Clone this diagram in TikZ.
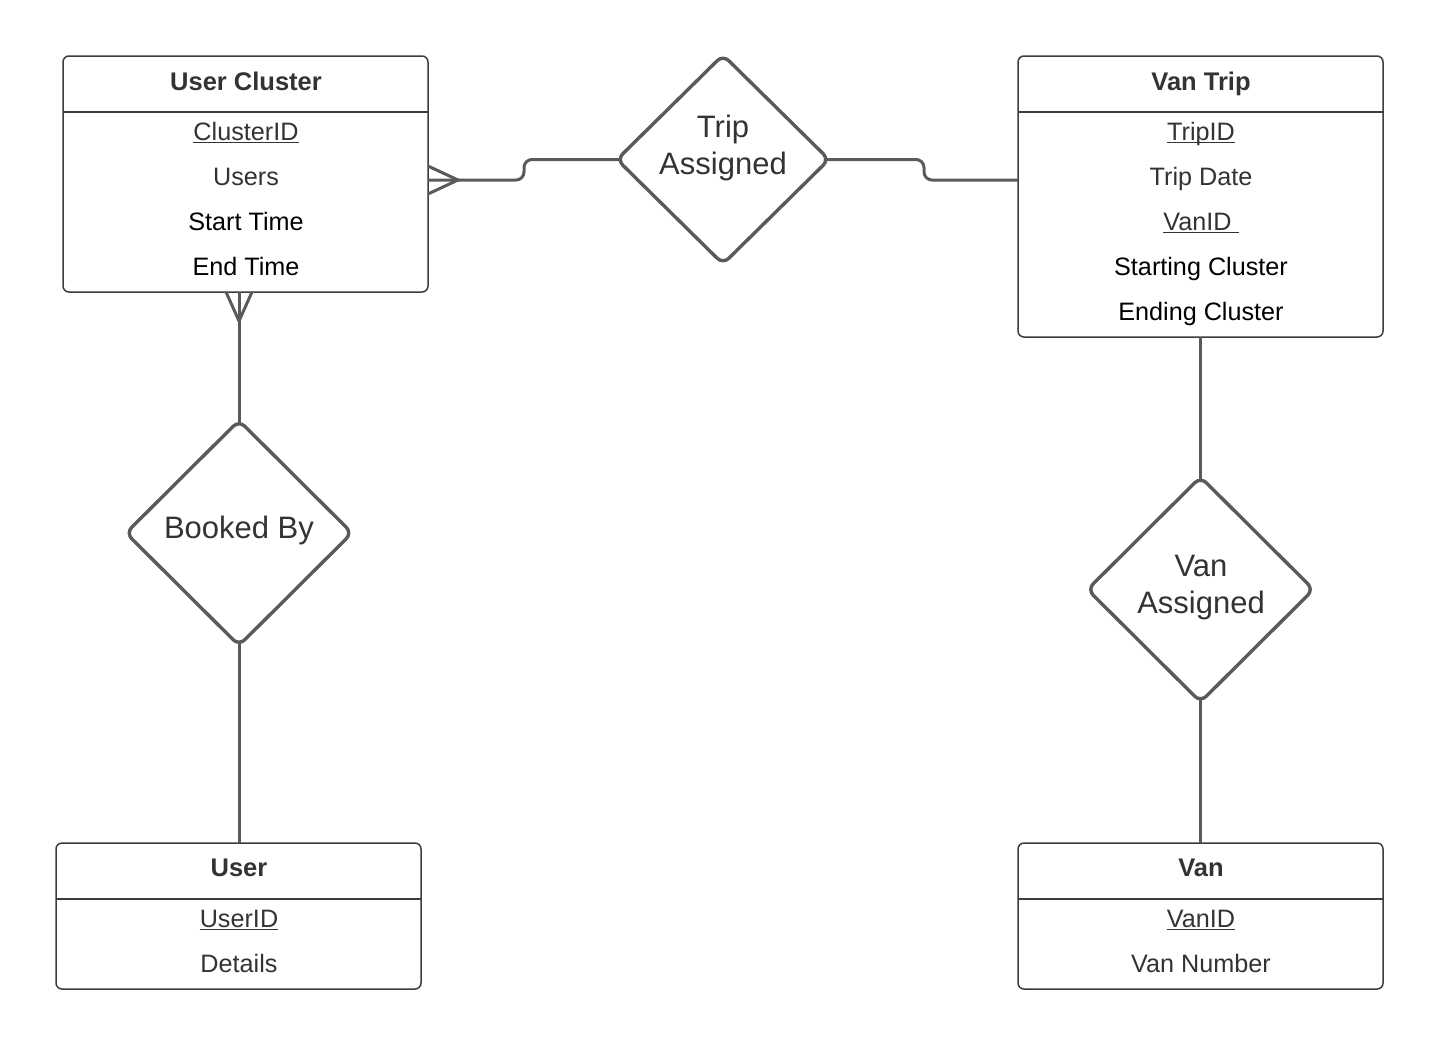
\documentclass[tikz,border=0pt]{standalone}
\usepackage{fontspec}
\setmainfont{Liberation Sans}
\usetikzlibrary{shapes.geometric,calc}
\definecolor{lineC}{HTML}{5A5A5A}
\definecolor{boxC}{HTML}{3C3C3C}
\definecolor{txtC}{HTML}{333333}
\newsavebox\ulbox
\newcommand\ulx[1]{\sbox\ulbox{#1}\rlap{\rule[-1.6pt]{\wd\ulbox}{0.7pt}}\usebox\ulbox}
\tikzset{
  entity/.style={draw=boxC, line width=0.75pt, rounded corners=3pt, rectangle, inner sep=0pt, outer sep=0pt, fill=white},
  title/.style={anchor=base, inner sep=0pt, font=\fontsize{12.75}{14}\selectfont\bfseries, text=txtC},
  attr/.style={anchor=base, inner sep=0pt, font=\fontsize{12.6}{14}\selectfont, text=txtC},
  attrk/.style={attr, text=black},
  rel/.style={draw=lineC, line width=1.7pt, diamond, rounded corners=4pt, inner sep=0pt, outer sep=0pt},
  dtext/.style={align=center, inner sep=0pt, font=\fontsize{15.5}{18.5}\selectfont, text=txtC},
  conn/.style={draw=lineC, line width=1.5pt},
}
\begin{document}
\begin{tikzpicture}[x=0.5pt,y=-0.5pt]
\useasboundingbox (0,0) rectangle (1440,1045);
% User Cluster
\node[entity, minimum width=182.5pt, minimum height=118pt] (uc) at (245.5,174) {};
\draw[boxC, line width=0.75pt] (uc.west |- 0,112) coordinate (ucH1) -- (uc.east |- 0,112) coordinate (ucH2);
\node[title] (ucT) at (246,90) {User Cluster};
\node[attr] (uc1) at (246,140) {\ulx{ClusterID}};
\node[attr] (uc2) at (246,185) {Users};
\node[attrk] (uc3) at (246,230) {Start Time};
\node[attrk] (uc4) at (246,275) {End Time};
% Van Trip
\node[entity, minimum width=182.5pt, minimum height=140.5pt] (vt) at (1200.5,196.5) {};
\draw[boxC, line width=0.75pt] (vt.west |- 0,112) coordinate (vtH1) -- (vt.east |- 0,112) coordinate (vtH2);
\node[title] (vtT) at (1201,90) {Van Trip};
\node[attr] (vt1) at (1201,140) {\ulx{TripID}};
\node[attr] (vt2) at (1201,185) {Trip Date};
\node[attr] (vt3) at (1201,230) {\ulx{VanID\ }};
\node[attrk] (vt4) at (1201,275) {Starting Cluster};
\node[attrk] (vt5) at (1201,320) {Ending Cluster};
% User
\node[entity, minimum width=182.5pt, minimum height=73pt] (us) at (238.5,916) {};
\draw[boxC, line width=0.75pt] (us.west |- 0,899) coordinate (usH1) -- (us.east |- 0,899) coordinate (usH2);
\node[title] (usT) at (239,876) {User};
\node[attr] (us1) at (239,927) {\ulx{UserID}};
\node[attr] (us2) at (239,972) {Details};
% Van
\node[entity, minimum width=182.5pt, minimum height=73pt] (vn) at (1200.5,916) {};
\draw[boxC, line width=0.75pt] (vn.west |- 0,899) coordinate (vnH1) -- (vn.east |- 0,899) coordinate (vnH2);
\node[title] (vnT) at (1201,876) {Van};
\node[attr] (vn1) at (1201,927) {\ulx{VanID}};
\node[attr] (vn2) at (1201,972) {Van Number};
% Relationships
\node[rel, minimum width=106pt, minimum height=104.5pt] (ta) at (723,159.5) {};
\node[dtext] (taL) at (723,148) {Trip\\Assigned};
\node[rel, minimum width=113pt, minimum height=112.5pt] (bb) at (239,533) {};
\node[dtext] (bbL) at (239,530) {Booked By};
\node[rel, minimum width=113pt, minimum height=112.5pt] (va) at (1200.5,589.5) {};
\node[dtext] (vaL) at (1201,588) {Van\\Assigned};
% Connectors
\coordinate (ucR) at (uc.east |- 0,180);
\coordinate (ucFoot) at (458,180);
\draw[conn, rounded corners=4pt] (ucR) -- (524,180) |- ($(ta.west)+(4,0)$);
\draw[conn, line join=round] ($(ucR)+(0,-14)$) -- (ucFoot) -- ($(ucR)+(0,14)$);
\coordinate (vtL) at (vt.west |- 0,180);
\draw[conn, rounded corners=4pt] ($(ta.east)+(-4,0)$) -| (924,180) -- (vtL);
\coordinate (ucB) at (uc.south -| bb.north);
\coordinate (ucBFoot) at (239,321);
\draw[conn] (ucB) -- ($(bb.north)+(0,4)$);
\draw[conn, line join=round] ($(ucB)+(-13,0)$) -- (ucBFoot) -- ($(ucB)+(13,0)$);
\draw[conn] ($(bb.south)+(0,-4)$) -- (bb.south |- us.north);
\draw[conn] (vt.south) -- ($(va.north)+(0,4)$);
\draw[conn] ($(va.south)+(0,-4)$) -- (vn.north);
\end{tikzpicture}
\end{document}
